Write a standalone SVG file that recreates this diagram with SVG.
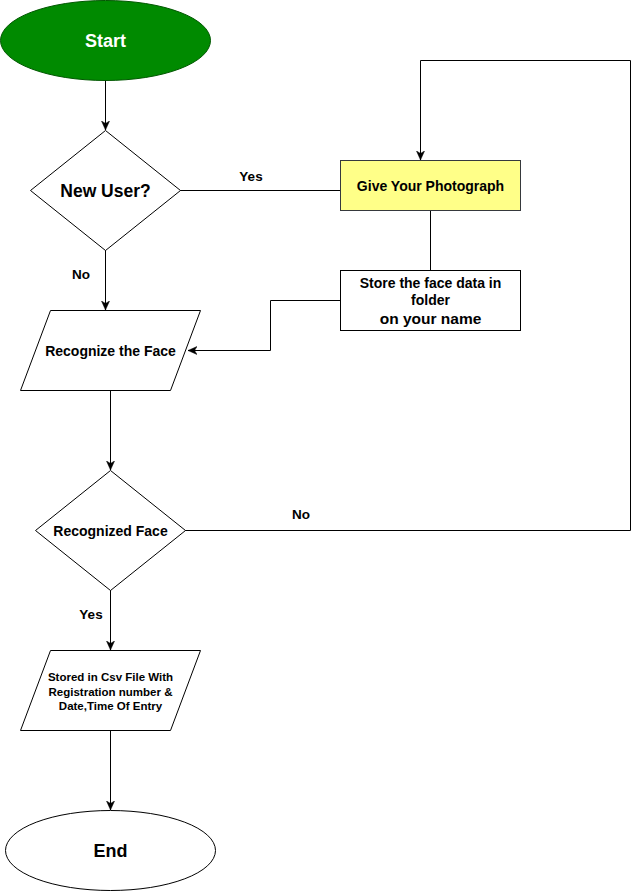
<svg xmlns="http://www.w3.org/2000/svg" width="632" height="892" viewBox="0 0 632 892">
<style>
.sh{stroke:#000;stroke-width:1;fill:#fff}
.t{font-family:"Liberation Sans",Arial,Helvetica,sans-serif;font-weight:bold;fill:#000;text-anchor:middle;dominant-baseline:central}
.c{fill:none;stroke:#000;stroke-width:1}
.a{marker-end:url(#arr)}
</style>
<defs>
<marker id="arr" markerUnits="userSpaceOnUse" markerWidth="10" markerHeight="10" refX="9" refY="4" orient="auto">
<path d="M0,0 L9,4 L0,8 L2.5,4 Z" fill="#000" stroke="#000" stroke-width="0.5"/>
</marker>
</defs>
<rect width="632" height="892" fill="#fff"/>
<g id="connectors">
<path class="c a" d="M105.5,80 L105.5,130"/>
<path class="c" d="M180,190.5 L340,190.5"/>
<path class="c a" d="M105.5,250 L105.5,310"/>
<path class="c" d="M430.5,210 L430.5,270"/>
<path class="c a" d="M340,300.5 L270.5,300.5 L270.5,350.5 L188,350.5"/>
<path class="c a" d="M110.5,390 L110.5,470"/>
<path class="c a" d="M185,530.5 L630.5,530.5 L630.5,60.5 L420.5,60.5 L420.5,160"/>
<path class="c a" d="M110.5,590 L110.5,650"/>
<path class="c a" d="M110.5,730 L110.5,810"/>
<text class="t" x="251" y="176" font-size="13.5">Yes</text>
<text class="t" x="81" y="274" font-size="13.5">No</text>
<text class="t" x="301" y="514" font-size="13.5">No</text>
<text class="t" x="91" y="614" font-size="13.5">Yes</text>
</g>
<g id="start">
<ellipse cx="105.5" cy="40.5" rx="105" ry="40" fill="#008a00" stroke="#005700"/>
<text class="t" x="105.5" y="41" font-size="18" style="fill:#fff">Start</text>
</g>
<g id="newuser">
<path class="sh" d="M105.5,130.5 L180.5,190.5 L105.5,250.5 L30.5,190.5 Z"/>
<text class="t" x="105.5" y="191" font-size="17.5">New User?</text>
</g>
<g id="photo">
<rect x="340.5" y="160.5" width="180" height="50" fill="#ffff88" stroke="#36393d"/>
<text class="t" x="430.5" y="186" font-size="14">Give Your Photograph</text>
</g>
<g id="store">
<rect class="sh" x="340.5" y="270.5" width="180" height="60"/>
<text class="t" x="430.5" y="283" font-size="14">Store the face data in</text>
<text class="t" x="430.5" y="300" font-size="14">folder</text>
<text class="t" x="430.5" y="318" font-size="15.5">on your name</text>
</g>
<g id="recognize">
<path class="sh" d="M50.5,310.5 L200.5,310.5 L170.5,390.5 L20.5,390.5 Z"/>
<text class="t" x="110.5" y="351" font-size="14">Recognize the Face</text>
</g>
<g id="recognized">
<path class="sh" d="M110.5,470.5 L185.5,530.5 L110.5,590.5 L35.5,530.5 Z"/>
<text class="t" x="110.5" y="531" font-size="14">Recognized Face</text>
</g>
<g id="csv">
<path class="sh" d="M50.5,650.5 L200.5,650.5 L170.5,730.5 L20.5,730.5 Z"/>
<text class="t" x="110.5" y="677" font-size="11.5">Stored in Csv File With</text>
<text class="t" x="110.5" y="691.5" font-size="11.5">Registration number &amp;</text>
<text class="t" x="110.5" y="706" font-size="11.5">Date,Time Of Entry</text>
</g>
<g id="end">
<ellipse class="sh" cx="110.5" cy="850.5" rx="105" ry="40"/>
<text class="t" x="110.5" y="851" font-size="18">End</text>
</g>
</svg>
